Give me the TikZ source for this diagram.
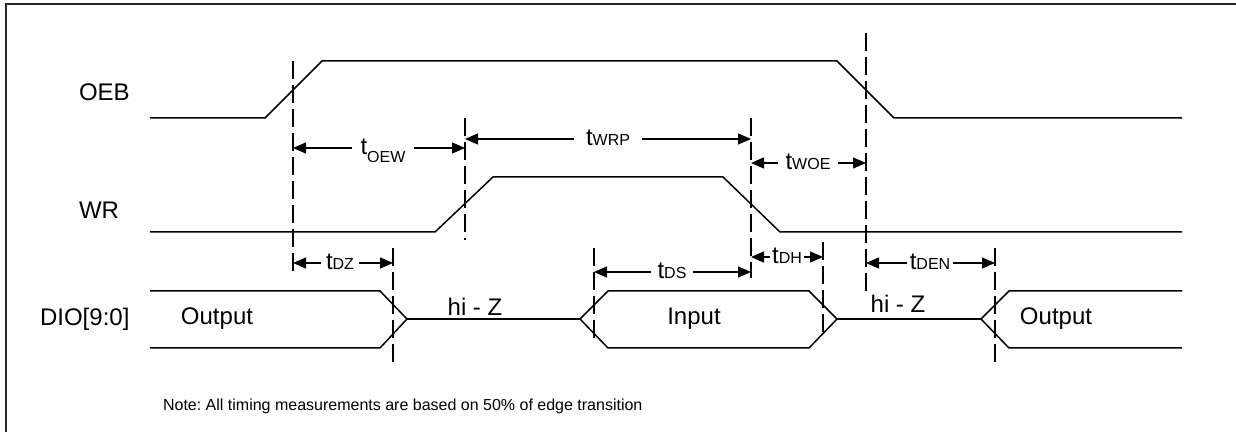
\documentclass[tikz,border=0pt]{standalone}
\usepackage{fontspec}
\setmainfont{Liberation Sans}
\usetikzlibrary{arrows.meta}
\frenchspacing
\tikzstyle{signal} = [draw, line width=0.75pt]
\tikzstyle{guide} = [draw, line width=0.6pt, dash pattern=on 9pt off 3pt]
\tikzstyle{line} = [draw, line width=0.6pt, -{Triangle[length=6.5pt,width=5.5pt]}]
\tikzstyle{tlabel} = [anchor=base, inner sep=3pt, font=\fontsize{12}{14}\selectfont]
\tikzstyle{wave} = [font=\fontsize{12}{14}\selectfont]
\newcommand{\tsub}[1]{t{\fontsize{8}{9}\selectfont #1}}

\begin{document}
\begin{tikzpicture}[x=0.5pt, y=-0.5pt]
	\useasboundingbox (0,0) rectangle (1236,432);
	\draw[line width=1pt, black!85] (6,432) -- (6,4) -- (1236,4);

	% signal names
	\node [wave, anchor=west] (oeb) at (72,92) {OEB};
	\node [wave, anchor=west] (wr) at (72,210) {WR};
	\node [wave, anchor=west] (dio) at (33,319) {DIO[9:0]};

	% waveforms
	\draw [signal] (150,118) -- (265,118) -- (322,61) -- (837,61) -- (894,118) -- (1182,118);
	\draw [signal] (150,232) -- (435,232) -- (493,177) -- (723,177) -- (780,232) -- (1182,232);
	\draw [signal] (150,291) -- (380,291) -- (407,319) -- (380,348) -- (150,348);
	\draw [signal] (407,319) -- (580,319);
	\draw [signal] (580,319) -- (608,291) -- (809,291) -- (837,319) -- (809,348) -- (608,348) -- cycle;
	\draw [signal] (837,319) -- (981,319);
	\draw [signal] (1182,291) -- (1009,291) -- (981,319) -- (1009,348) -- (1182,348);

	% bus states
	\node [wave] (out1) at (217,319) {Output};
	\node [wave] (hiz1) at (475,307) {hi - Z};
	\node [wave] (input) at (694,319) {Input};
	\node [wave] (hiz2) at (898,304) {hi - Z};
	\node [wave] (out2) at (1056,319) {Output};

	% guides
	\draw [guide] (293,61) -- (293,275);
	\draw [guide] (465,118) -- (465,240);
	\draw [guide] (751,118) -- (751,278);
	\draw [guide] (866,33) -- (866,292);
	\draw [guide] (393,248) -- (393,362);
	\draw [guide] (594,248) -- (594,343);
	\draw [guide] (823,242) -- (823,338);
	\draw [guide] (995,248) -- (995,362);

	% timing labels
	\coordinate (oewL) at (293,148);  \coordinate (oewR) at (465,148);
	\coordinate (wrpL) at (465,139);  \coordinate (wrpR) at (751,139);
	\coordinate (woeL) at (751,163);  \coordinate (woeR) at (866,163);
	\coordinate (dzL) at (293,263);   \coordinate (dzR) at (393,263);
	\coordinate (dsL) at (594,272);   \coordinate (dsR) at (751,272);
	\coordinate (dhL) at (751,257);   \coordinate (dhR) at (823,257);
	\coordinate (denL) at (866,263);  \coordinate (denR) at (995,263);

	\node [tlabel, inner xsep=4pt] (oew) at (383,155) {t\raisebox{-4pt}{\fontsize{8}{9}\selectfont OEW}};
	\node [tlabel, inner xsep=6pt] (wrp) at (608,146) {\tsub{WRP}};
	\node [tlabel, inner xsep=3.5pt] (woe) at (808,170) {\tsub{WOE}};
	\node [tlabel, inner xsep=2.5pt] (dz) at (340,270) {\tsub{DZ}};
	\node [tlabel] (ds) at (672,279) {\tsub{DS}};
	\node [tlabel, inner xsep=1pt] (dh) at (787,264) {\tsub{DH}};
	\node [tlabel, inner xsep=1pt] (den) at (930,270) {\tsub{DEN}};

	\path [line] (oew.west |- oewL) -- (oewL);
	\path [line] (oew.east |- oewR) -- (oewR);
	\path [line] (wrp.west |- wrpL) -- (wrpL);
	\path [line] (wrp.east |- wrpR) -- (wrpR);
	\path [line] (woe.west |- woeL) -- (woeL);
	\path [line] (woe.east |- woeR) -- (woeR);
	\path [line] (dz.west |- dzL) -- (dzL);
	\path [line] (dz.east |- dzR) -- (dzR);
	\path [line] (ds.west |- dsL) -- (dsL);
	\path [line] (ds.east |- dsR) -- (dsR);
	\path [line] (dh.west |- dhL) -- (dhL);
	\path [line] (dh.east |- dhR) -- (dhR);
	\path [line] (den.west |- denL) -- (denL);
	\path [line] (den.east |- denR) -- (denR);

	\node [anchor=west, font=\fontsize{8}{10}\selectfont] (note) at (156,406) {Note: All timing measurements are based on 50\% of edge transition};
\end{tikzpicture}
\end{document}
